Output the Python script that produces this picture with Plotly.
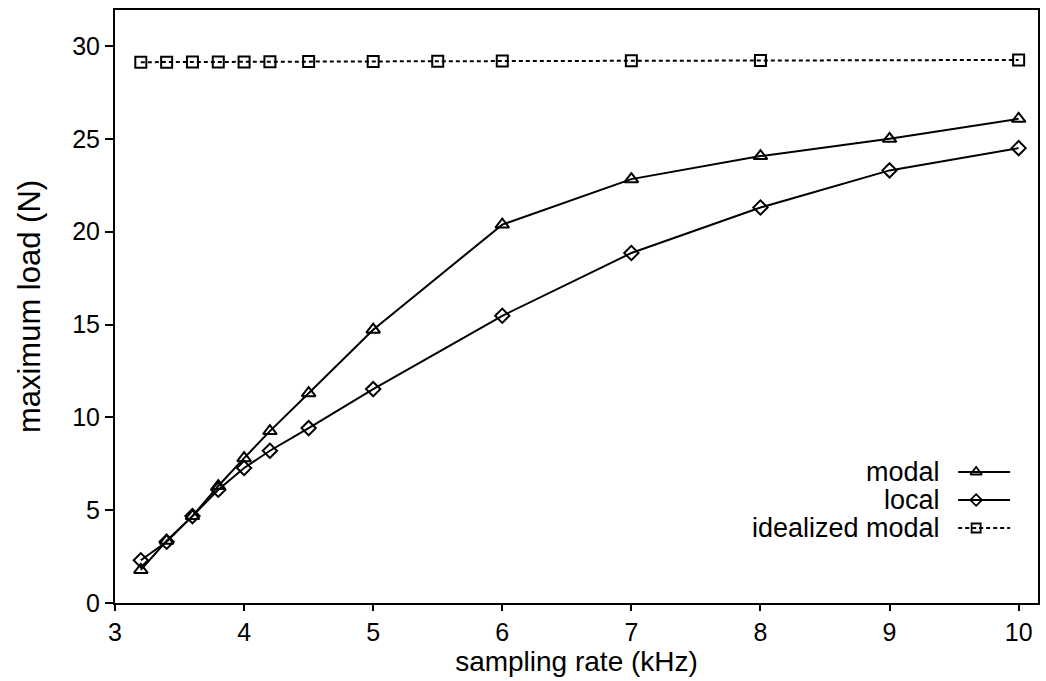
import plotly.graph_objects as go

# ---- data ----
modal_x = [3.2, 3.4, 3.6, 3.8, 4.0, 4.2, 4.5, 5, 6, 7, 8, 9, 10]
modal_y = [1.78, 3.35, 4.68, 6.3, 7.8, 9.26, 11.3, 14.72, 20.38, 22.83, 24.07, 25.0, 26.08]

local_x = [3.2, 3.4, 3.6, 3.8, 4.0, 4.2, 4.5, 5, 6, 7, 8, 9, 10]
local_y = [2.3, 3.3, 4.68, 6.1, 7.27, 8.2, 9.42, 11.52, 15.47, 18.85, 21.3, 23.3, 24.5]

ideal_x = [3.2, 3.4, 3.6, 3.8, 4.0, 4.2, 4.5, 5, 5.5, 6, 7, 8, 10]
ideal_y = [29.13, 29.13, 29.14, 29.14, 29.14, 29.15, 29.16, 29.17, 29.18, 29.19, 29.21, 29.22, 29.25]

series_names = ["modal", "local", "idealized modal"]
x_ticks = [3, 4, 5, 6, 7, 8, 9, 10]
y_ticks = [0, 5, 10, 15, 20, 25, 30]

FONT = "Liberation Sans, Arial, Helvetica, sans-serif"
BLACK = "black"
TICK_SIZE = 25
TITLE_SIZE = 28
YTITLE_SIZE = 31
LEGEND_SIZE = 27

fig = go.Figure()

styles = [
    dict(symbol="triangle-up-open", dash="solid", size=12),
    dict(symbol="diamond-open", dash="solid", size=11),
    dict(symbol="square-open", dash="4px,3px", size=11),
]
data = [(modal_x, modal_y), (local_x, local_y), (ideal_x, ideal_y)]

for (xs, ys), st, name in zip(data, styles, series_names):
    fig.add_trace(go.Scatter(
        x=xs, y=ys, mode="lines+markers", name=name, showlegend=False,
        line=dict(color=BLACK, width=2, dash=st["dash"]),
        marker=dict(symbol=st["symbol"], size=st["size"], color=BLACK,
                    line=dict(color=BLACK, width=2)),
    ))

# ---- hand-made legend (labels left of samples), on a pixel-like overlay axis ----
leg_rows = [472, 500, 528]
leg_line_x0, leg_line_x1, leg_marker_x, leg_text_x = 960, 1012, 978, 944
for st, name, ry in zip(styles, series_names, leg_rows):
    fig.add_trace(go.Scatter(
        x=[leg_line_x0, leg_line_x1], y=[ry, ry], mode="lines", xaxis="x2", yaxis="y2",
        showlegend=False, hoverinfo="skip",
        line=dict(color=BLACK, width=1.8, dash=st["dash"]),
    ))
    fig.add_trace(go.Scatter(
        x=[leg_marker_x], y=[ry], mode="markers", xaxis="x2", yaxis="y2",
        showlegend=False, hoverinfo="skip",
        marker=dict(symbol=st["symbol"], size=st["size"] - 2, color=BLACK,
                    line=dict(color=BLACK, width=1.8)),
    ))
    fig.add_annotation(x=leg_text_x, y=ry, xref="x2", yref="y2", text=name,
                       showarrow=False, xanchor="right", yanchor="middle",
                       font=dict(family=FONT, size=LEGEND_SIZE, color=BLACK))

fig.update_layout(
    width=1046, height=681,
    margin=dict(l=115, r=6, t=10, b=78),
    paper_bgcolor="white", plot_bgcolor="white",
    font=dict(family=FONT, color=BLACK, size=TICK_SIZE),
    xaxis=dict(
        range=[3, 10.15], tickvals=x_ticks, ticktext=[str(v) for v in x_ticks],
        showgrid=False, zeroline=False,
        showline=True, linecolor=BLACK, linewidth=2, mirror=True,
        ticks="outside", ticklen=6, tickwidth=2, tickcolor=BLACK,
        tickfont=dict(size=TICK_SIZE, family=FONT),
        title=dict(text="sampling rate (kHz)", font=dict(size=TITLE_SIZE, family=FONT), standoff=0),
    ),
    yaxis=dict(
        range=[0, 31.94], tickvals=y_ticks, ticktext=[str(v) for v in y_ticks],
        showgrid=False, zeroline=False,
        showline=True, linecolor=BLACK, linewidth=2, mirror=True,
        ticks="outside", ticklen=8, tickwidth=2, tickcolor=BLACK,
        tickfont=dict(size=TICK_SIZE, family=FONT),
        title=dict(text="maximum load (N)", font=dict(size=YTITLE_SIZE, family=FONT), standoff=22),
    ),
    xaxis2=dict(range=[115, 1040], overlaying="x", visible=False, fixedrange=True),
    yaxis2=dict(range=[603, 10], overlaying="y", visible=False, fixedrange=True),
)

fig.write_html("out.html")
